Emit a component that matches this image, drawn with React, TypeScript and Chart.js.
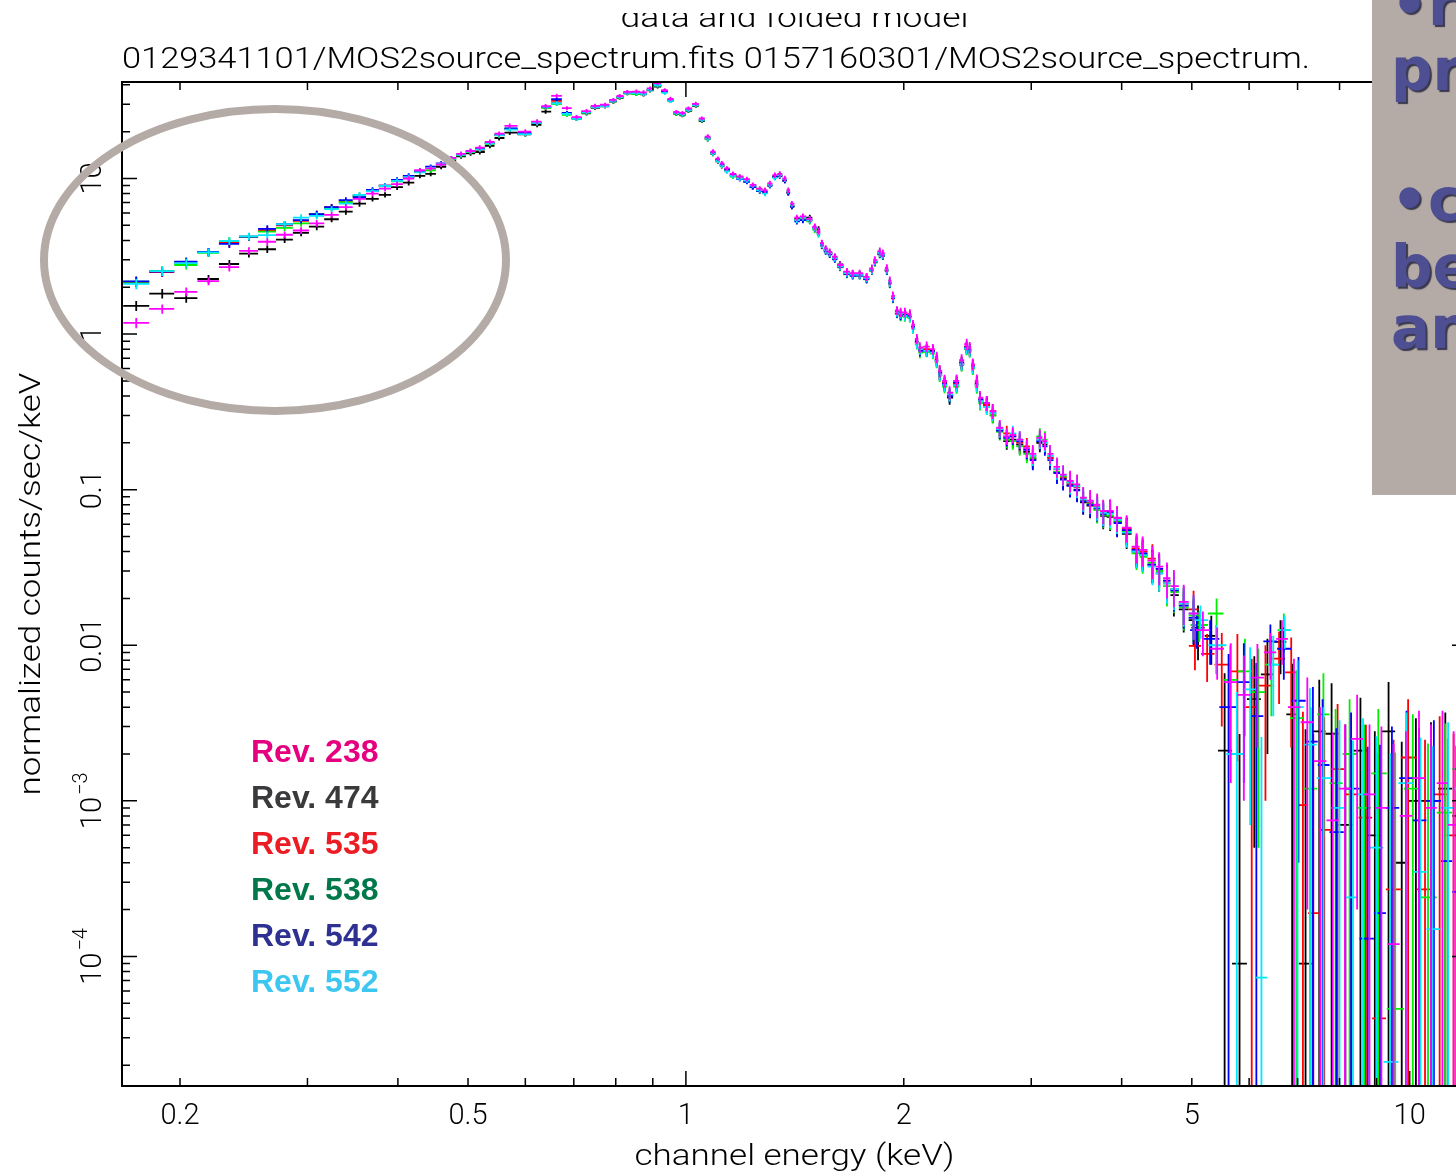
import React, { useEffect, useRef } from "react";
import { Chart, registerables } from "chart.js";

Chart.register(...registerables);

// Channel-energy grid (keV, bin centres) shared by the six MOS2 spectra below 5 keV
const energyKeV = [
  0.174, 0.189, 0.204, 0.219, 0.234, 0.249, 0.264, 0.279, 0.294, 0.309, 0.324, 0.339, 0.354, 0.369, 0.384, 0.399, 0.414, 0.429, 0.444, 0.459, 0.474, 0.489, 0.504,
  0.519, 0.536, 0.552, 0.571, 0.600, 0.623, 0.640, 0.663, 0.685, 0.706, 0.729, 0.749, 0.773, 0.794, 0.810, 0.830, 0.854, 0.874, 0.892, 0.914, 0.935, 0.952, 0.970, 0.989, 1.008, 1.032, 1.052,
  1.072, 1.090, 1.107, 1.121, 1.139, 1.161, 1.187, 1.214, 1.237, 1.265, 1.286, 1.306, 1.327, 1.348, 1.370, 1.385, 1.401, 1.423, 1.451, 1.483, 1.507, 1.525, 1.541, 1.560, 1.580, 1.606, 1.632, 1.669, 1.700, 1.738, 1.777, 1.807, 1.824, 1.853, 1.871, 1.895, 1.913, 1.932, 1.957, 1.980, 2.007, 2.039,
  2.059, 2.085, 2.105, 2.151, 2.194, 2.221, 2.242, 2.277, 2.314, 2.366, 2.404, 2.443, 2.467, 2.491, 2.523, 2.548, 2.604, 2.654, 2.714, 2.775, 2.829, 2.892, 2.958, 3.015, 3.083, 3.133, 3.184, 3.256, 3.320, 3.395, 3.471, 3.539, 3.618, 3.700, 3.772, 3.856, 3.942, 4.064, 4.194, 4.276, 4.411, 4.507, 4.620, 4.723, 4.873, 5.028,
];

// Fractional 1-sigma error on each grid bin
const relErr = [
  0.075, 0.07, 0.065, 0.06, 0.06, 0.055, 0.055, 0.05, 0.05, 0.05, 0.045, 0.045, 0.045, 0.04, 0.04, 0.04, 0.04, 0.035, 0.035, 0.035, 0.035, 0.035, 0.035,
  0.035, 0.035, 0.035, 0.035, 0.035, 0.035, 0.03, 0.03, 0.03, 0.03, 0.03, 0.03, 0.03, 0.03, 0.03, 0.03, 0.03, 0.03, 0.03, 0.03, 0.03, 0.03, 0.03, 0.03, 0.03, 0.03, 0.03,
  0.035, 0.035, 0.035, 0.035, 0.035, 0.035, 0.035, 0.035, 0.035, 0.035, 0.04, 0.04, 0.04, 0.04, 0.04, 0.04, 0.04, 0.045, 0.045, 0.045, 0.05, 0.05, 0.05, 0.05, 0.05, 0.05, 0.055, 0.055, 0.055, 0.055, 0.06, 0.06, 0.06, 0.06, 0.06, 0.06, 0.065, 0.065, 0.065, 0.07, 0.07, 0.07,
  0.07, 0.075, 0.08, 0.08, 0.08, 0.085, 0.09, 0.095, 0.1, 0.1, 0.09, 0.085, 0.085, 0.09, 0.1, 0.105, 0.11, 0.11, 0.12, 0.12, 0.12, 0.13, 0.13, 0.14, 0.13, 0.13, 0.14, 0.15, 0.15, 0.16, 0.16, 0.17, 0.17, 0.18, 0.18, 0.19, 0.19, 0.2, 0.22, 0.22, 0.24, 0.24, 0.26, 0.27, 0.29, 0.32,
];

// normalized counts/sec/keV on the grid, one array per revolution
const rev238 = [
  1.18, 1.45, 1.87, 2.19, 2.69, 3.43, 3.92, 4.35, 4.63, 5.15, 5.83, 6.55, 7.40, 8.00, 8.60, 9.20, 10.0, 11.3, 11.6, 12.3, 13.5, 14.4, 15.0,
  15.8, 17.2, 19.4, 21.8, 20.0, 23.2, 29.2, 34.0, 28.3, 24.8, 27.1, 29.3, 29.8, 32.0, 33.9, 36.0, 36.2, 35.8, 37.9, 41.0, 36.9, 32.5, 26.8, 26.4, 28.2, 30.2, 24.3,
  18.6, 14.9, 13.4, 12.5, 11.6, 10.7, 10.3, 9.9, 9.1, 8.6, 8.4, 9.3, 10.5, 10.7, 10.0, 8.4, 6.9, 5.6, 5.7, 5.5, 4.9, 4.6, 3.85, 3.55, 3.38, 3.15, 2.78, 2.52, 2.46, 2.46, 2.33, 2.64, 2.99, 3.40, 3.30, 2.65, 2.20, 1.76, 1.42, 1.38, 1.38, 1.35,
  1.15, 0.93, 0.82, 0.83, 0.80, 0.71, 0.58, 0.50, 0.42, 0.50, 0.68, 0.86, 0.82, 0.64, 0.50, 0.39, 0.36, 0.32, 0.25, 0.22, 0.225, 0.21, 0.185, 0.17, 0.215, 0.205, 0.17, 0.14, 0.125, 0.114, 0.108, 0.089, 0.085, 0.080, 0.073, 0.073, 0.066, 0.057, 0.043, 0.041, 0.035, 0.032, 0.027, 0.024, 0.019, 0.016,
];
const rev474 = [
  1.52, 1.82, 1.70, 2.26, 2.82, 3.29, 3.51, 4.05, 4.47, 4.90, 5.47, 6.13, 6.90, 7.40, 7.85, 8.80, 9.40, 10.4, 10.7, 11.9, 13.0, 13.9, 14.5,
  14.8, 16.2, 18.2, 19.7, 19.2, 22.1, 26.9, 30.4, 26.0, 24.2, 26.2, 28.4, 29.1, 31.2, 33.0, 35.3, 35.0, 34.7, 36.8, 39.0, 36.0, 31.6, 26.0, 25.5, 27.2, 29.3, 23.4,
  17.9, 14.4, 12.9, 12.0, 11.5, 10.4, 10.2, 9.6, 8.8, 8.3, 8.1, 9.0, 10.2, 10.4, 9.7, 8.1, 6.6, 5.5, 5.6, 5.6, 4.8, 4.7, 3.80, 3.50, 3.33, 3.12, 2.80, 2.50, 2.44, 2.42, 2.30, 2.60, 2.90, 3.30, 3.18, 2.58, 2.14, 1.72, 1.40, 1.34, 1.32, 1.29,
  1.12, 0.90, 0.80, 0.79, 0.78, 0.67, 0.55, 0.47, 0.39, 0.47, 0.64, 0.81, 0.78, 0.61, 0.47, 0.37, 0.35, 0.30, 0.24, 0.205, 0.21, 0.195, 0.175, 0.158, 0.20, 0.195, 0.16, 0.13, 0.118, 0.107, 0.10, 0.083, 0.079, 0.075, 0.068, 0.067, 0.062, 0.052, 0.040, 0.038, 0.033, 0.029, 0.025, 0.021, 0.017, 0.0145,
];
const rev535 = [
  2.16, 2.50, 2.88, 3.37, 3.85, 4.20, 4.65, 5.00, 5.35, 5.90, 6.55, 7.10, 7.75, 8.30, 9.00, 9.70, 10.2, 11.0, 11.8, 12.4, 13.4, 14.2, 14.9,
  15.3, 16.8, 19.0, 20.8, 19.5, 22.8, 28.6, 31.5, 26.3, 24.4, 26.6, 28.7, 29.2, 31.4, 33.3, 35.6, 35.4, 35.0, 37.1, 39.5, 36.2, 32.0, 26.2, 25.8, 27.5, 29.6, 23.7,
  18.2, 14.6, 13.1, 12.2, 11.2, 10.5, 10.0, 9.8, 9.0, 8.5, 8.3, 9.2, 10.3, 10.5, 9.8, 8.2, 6.7, 5.4, 5.5, 5.4, 4.8, 4.5, 3.74, 3.45, 3.30, 3.06, 2.71, 2.46, 2.40, 2.40, 2.28, 2.58, 2.92, 3.30, 3.22, 2.57, 2.13, 1.71, 1.37, 1.33, 1.34, 1.32,
  1.10, 0.88, 0.79, 0.80, 0.76, 0.69, 0.57, 0.49, 0.41, 0.48, 0.66, 0.83, 0.80, 0.63, 0.49, 0.38, 0.35, 0.32, 0.245, 0.23, 0.22, 0.20, 0.19, 0.165, 0.21, 0.20, 0.16, 0.135, 0.12, 0.11, 0.104, 0.088, 0.083, 0.078, 0.072, 0.071, 0.065, 0.056, 0.042, 0.040, 0.036, 0.031, 0.026, 0.023, 0.0185, 0.017,
];
const rev538 = [
  2.17, 2.55, 2.78, 3.33, 3.97, 4.23, 4.55, 4.82, 5.15, 5.90, 6.45, 7.05, 7.70, 8.35, 8.90, 9.60, 10.3, 11.1, 11.3, 12.3, 13.3, 14.1, 14.8,
  15.4, 16.7, 18.9, 20.9, 19.4, 22.7, 28.4, 30.2, 25.6, 24.3, 26.5, 28.8, 29.3, 31.3, 33.2, 35.3, 34.9, 34.8, 37.0, 39.3, 36.1, 31.8, 26.1, 25.7, 27.4, 29.5, 23.6,
  18.0, 14.5, 13.0, 12.1, 11.3, 10.3, 10.1, 9.6, 8.9, 8.4, 8.3, 9.1, 10.4, 10.6, 9.8, 8.2, 6.7, 5.4, 5.5, 5.3, 4.7, 4.4, 3.70, 3.42, 3.28, 3.04, 2.68, 2.42, 2.38, 2.37, 2.25, 2.55, 2.88, 3.26, 3.20, 2.55, 2.11, 1.69, 1.35, 1.30, 1.29, 1.27,
  1.08, 0.86, 0.76, 0.77, 0.75, 0.66, 0.54, 0.46, 0.40, 0.46, 0.63, 0.80, 0.77, 0.60, 0.46, 0.36, 0.34, 0.30, 0.235, 0.21, 0.205, 0.19, 0.17, 0.16, 0.22, 0.21, 0.165, 0.13, 0.122, 0.112, 0.106, 0.085, 0.081, 0.074, 0.069, 0.068, 0.063, 0.054, 0.039, 0.037, 0.034, 0.030, 0.024, 0.022, 0.0175, 0.0155,
];
const rev542 = [
  2.18, 2.52, 2.92, 3.37, 3.80, 4.23, 4.75, 5.08, 5.40, 5.90, 6.55, 7.25, 7.60, 8.44, 9.00, 9.78, 10.4, 11.2, 11.9, 12.5, 13.5, 14.3, 15.0,
  15.5, 16.9, 19.1, 21.0, 19.6, 22.9, 28.8, 32.3, 26.4, 24.5, 26.8, 29.0, 29.5, 31.6, 33.5, 35.7, 35.6, 35.2, 37.3, 39.7, 36.4, 32.1, 26.4, 26.0, 27.7, 29.8, 23.9,
  18.3, 14.7, 13.2, 12.3, 11.4, 10.6, 9.9, 9.5, 8.8, 8.3, 8.2, 9.0, 10.2, 10.4, 9.7, 8.1, 6.6, 5.3, 5.4, 5.4, 4.8, 4.5, 3.72, 3.40, 3.25, 3.02, 2.70, 2.44, 2.37, 2.38, 2.26, 2.57, 2.91, 3.28, 3.21, 2.56, 2.12, 1.70, 1.36, 1.32, 1.33, 1.30,
  1.11, 0.89, 0.78, 0.78, 0.77, 0.68, 0.56, 0.48, 0.40, 0.49, 0.65, 0.82, 0.79, 0.62, 0.48, 0.38, 0.36, 0.31, 0.24, 0.215, 0.22, 0.205, 0.18, 0.155, 0.205, 0.19, 0.155, 0.128, 0.116, 0.106, 0.099, 0.084, 0.080, 0.076, 0.070, 0.072, 0.061, 0.055, 0.041, 0.039, 0.033, 0.031, 0.026, 0.0225, 0.018, 0.015,
];
const rev552 = [
  2.10, 2.54, 2.86, 3.35, 3.97, 4.25, 4.33, 5.08, 5.60, 5.75, 6.35, 6.90, 7.83, 8.30, 8.95, 9.65, 10.2, 10.95, 11.7, 12.4, 13.4, 14.2, 14.9,
  15.4, 16.8, 19.0, 20.6, 19.3, 22.8, 28.9, 30.4, 26.0, 24.2, 26.6, 28.7, 29.2, 31.5, 33.4, 35.5, 35.4, 35.0, 37.2, 39.8, 35.5, 31.5, 26.3, 25.8, 27.5, 29.6, 23.8,
  18.1, 14.5, 13.0, 12.1, 11.1, 10.4, 10.0, 9.7, 9.0, 8.4, 8.0, 9.1, 10.1, 10.5, 9.9, 8.3, 6.8, 5.4, 5.6, 5.4, 4.8, 4.4, 3.76, 3.46, 3.31, 3.08, 2.72, 2.47, 2.41, 2.40, 2.29, 2.59, 2.93, 3.32, 3.24, 2.60, 2.15, 1.73, 1.38, 1.35, 1.31, 1.28,
  1.09, 0.87, 0.80, 0.78, 0.76, 0.67, 0.55, 0.47, 0.41, 0.47, 0.64, 0.81, 0.78, 0.61, 0.47, 0.37, 0.34, 0.31, 0.245, 0.22, 0.23, 0.21, 0.185, 0.165, 0.21, 0.20, 0.165, 0.136, 0.124, 0.111, 0.105, 0.087, 0.084, 0.077, 0.071, 0.070, 0.064, 0.053, 0.040, 0.038, 0.032, 0.029, 0.025, 0.023, 0.0185, 0.016,
];

// Hard band (> 5 keV): each revolution has its own grouping, values and absolute errors
const tailE238 = [5.18, 5.42, 5.66, 5.90, 6.16, 6.42, 6.66, 6.92, 7.22, 7.52, 7.83, 8.14, 8.46, 8.80, 9.14, 9.50, 9.88, 10.3, 10.7, 11.1, 11.5, 11.9];
const tailV238 = [0.0125, 0.0095, 0.0058, 0.0048, 0.0062, 0.0090, 0.0110, 0.0040, 0.0032, 0.0018, 0.00075, 0.0012, 0.0025, 0.0011, 0.0009, 0.00012, 0.0008, 0.0014, 0.0009, 0.0013, 0.0007, 0.0011];
const tailErr238 = [0.004, 0.0035, 0.0045, 0.0038, 0.004, 0.003, 0.0035, 0.0042, 0.003, 0.0022, 0.002, 0.0019, 0.0023, 0.002, 0.0021, 0.0022, 0.002, 0.0024, 0.0022, 0.0025, 0.0021, 0.0022];

const tailE474 = [5.10, 5.32, 5.55, 5.82, 6.10, 6.36, 6.63, 6.88, 7.18, 7.50, 7.80, 8.15, 8.55, 8.95, 9.35, 9.75, 10.2, 10.7, 11.2, 11.7];
const tailV474 = [0.013, 0.0115, 0.0021, 0.00009, 0.0045, 0.0065, 0.0105, 0.0036, 0.00009, 0.0028, 0.0027, 0.0007, 0.0021, 0.0006, 0.0028, 0.0004, 0.001, 0.001, 0.0012, 0.0008];
const tailErr474 = [0.005, 0.004, 0.0045, 0.0026, 0.004, 0.0045, 0.004, 0.004, 0.0028, 0.0032, 0.003, 0.0024, 0.0025, 0.0022, 0.003, 0.002, 0.0024, 0.0022, 0.0025, 0.002];

const tailE535 = [5.05, 5.25, 5.50, 5.78, 6.05, 6.32, 6.60, 6.86, 7.12, 7.36, 7.62, 7.95, 8.30, 8.70, 9.05, 9.50, 9.95, 10.5, 11.0, 11.5];
const tailV535 = [0.0099, 0.0088, 0.0075, 0.0068, 0.004, 0.0055, 0.0082, 0.0067, 0.00094, 0.00019, 0.00065, 0.0016, 0.0011, 0.00078, 0.00004, 0.00027, 0.0019, 0.00027, 0.0011, 0.0006];
const tailErr535 = [0.003, 0.003, 0.0045, 0.005, 0.0042, 0.0045, 0.004, 0.0045, 0.0028, 0.0025, 0.0028, 0.0026, 0.0025, 0.0023, 0.002, 0.0022, 0.0026, 0.0022, 0.0024, 0.0021];

const tailE538 = [5.12, 5.41, 5.65, 5.92, 6.18, 6.44, 6.70, 6.97, 7.30, 7.60, 7.90, 8.26, 8.65, 9.05, 9.55, 10.1, 10.6, 11.2, 11.7];
const tailV538 = [0.0135, 0.016, 0.006, 0.0068, 0.005, 0.0075, 0.0125, 0.0034, 0.0012, 0.0036, 0.0013, 0.002, 0.0009, 0.0015, 0.000046, 0.0012, 0.00024, 0.00084, 0.0016];
const tailErr538 = [0.003, 0.004, 0.004, 0.0042, 0.0045, 0.004, 0.0035, 0.0035, 0.0028, 0.003, 0.0026, 0.0025, 0.0022, 0.0024, 0.002, 0.0024, 0.0021, 0.0023, 0.0025];

const tailE542 = [5.08, 5.30, 5.62, 5.90, 6.14, 6.42, 6.70, 7.02, 7.35, 7.58, 7.92, 8.30, 8.75, 9.10, 9.45, 9.90, 10.3, 10.8, 11.3, 11.6];
const tailV542 = [0.0125, 0.011, 0.004, 0.0058, 0.0035, 0.0106, 0.0095, 0.0044, 0.0024, 0.0017, 0.00063, 0.0012, 0.00013, 0.00019, 0.0009, 0.0014, 0.00075, 0.001, 0.00041, 0.00026];
const tailErr542 = [0.003, 0.0035, 0.0048, 0.0045, 0.0042, 0.003, 0.0035, 0.004, 0.003, 0.0028, 0.0023, 0.0025, 0.0021, 0.0021, 0.0021, 0.0024, 0.0022, 0.0023, 0.0021, 0.002];

const tailE552 = [5.14, 5.40, 5.77, 6.02, 6.24, 6.48, 6.72, 7.00, 7.28, 7.60, 8.00, 8.35, 8.62, 9.00, 9.40, 9.90, 10.35, 10.75, 11.3, 11.75];
const tailV552 = [0.0145, 0.01, 0.002, 0.0052, 0.000073, 0.0075, 0.0125, 0.004, 0.0023, 0.0014, 0.0009, 0.00024, 0.0011, 0.0005, 0.000021, 0.0013, 0.00035, 0.00015, 0.0009, 0.0012];
const tailErr552 = [0.0035, 0.0035, 0.003, 0.0045, 0.0025, 0.004, 0.003, 0.004, 0.003, 0.0026, 0.0024, 0.0022, 0.0023, 0.0021, 0.002, 0.0024, 0.0022, 0.0021, 0.0023, 0.0024];

const revLabels = ["Rev. 238", "Rev. 474", "Rev. 535", "Rev. 538", "Rev. 542", "Rev. 552"];
const legendColors = ["#e4007f", "#3a3a3c", "#ec1c24", "#00784a", "#2e3192", "#3cc6f0"];
const markerColors = ["#ff00ff", "#000000", "#ff0000", "#00ee00", "#0000ff", "#00e8ff"];
// plotting order (last one ends up on top)
const drawOrder = [1, 2, 3, 4, 5, 0];

const xTickValues = [0.2, 0.5, 1, 2, 5, 10];
const xTickText = ["0.2", "0.5", "1", "2", "5", "10"];
const yTickValues = [10, 1, 0.1, 0.01, 1e-3, 1e-4];
const yTickMain = ["10", "1", "0.1", "0.01", "10", "10"];
const yTickExp = ["", "", "", "", "\u22123", "\u22124"];

const titleTop = "data and folded model";
const titleFiles = "0129341101/MOS2source_spectrum.fits 0157160301/MOS2source_spectrum.";
const xTitle = "channel energy (keV)";
const yTitle = "normalized counts/sec/keV";
const panelLines = ["\u2022re", "pr", "\u2022c", "be", "an"];

const X_MIN = 0.1663;
const X_MAX = 12.0;
const Y_MIN = 1.47e-5;
const Y_MAX = 41.7;

const CANVAS_W = 1480;
const CANVAS_H = 1176;

const LABEL_FONT = "300 29px Roboto";
const TITLE_FONT = "300 30px Roboto";

function binEdges(e: number[]) {
  const lo: number[] = [];
  const hi: number[] = [];
  for (let i = 0; i < e.length; i++) {
    const prev = i > 0 ? Math.sqrt(e[i - 1] * e[i]) : null;
    const next = i < e.length - 1 ? Math.sqrt(e[i] * e[i + 1]) : null;
    lo.push(prev !== null ? prev : (e[i] * e[i]) / (next as number));
    hi.push(next !== null ? next : (e[i] * e[i]) / (prev as number));
  }
  return { lo, hi };
}

function buildPoints(values: number[], tE: number[], tV: number[], tErr: number[]) {
  const g = binEdges(energyKeV);
  const pts: any[] = [];
  const n = Math.min(values.length, energyKeV.length);
  for (let i = 0; i < n; i++) {
    pts.push({ x: energyKeV[i], y: values[i], lo: g.lo[i], hi: g.hi[i], err: values[i] * relErr[i] });
  }
  const t = binEdges(tE);
  for (let i = 0; i < tE.length; i++) {
    pts.push({ x: tE[i], y: tV[i], lo: t.lo[i], hi: t.hi[i], err: tErr[i] });
  }
  return pts;
}

const seriesData = [
  buildPoints(rev238, tailE238, tailV238, tailErr238),
  buildPoints(rev474, tailE474, tailV474, tailErr474),
  buildPoints(rev535, tailE535, tailV535, tailErr535),
  buildPoints(rev538, tailE538, tailV538, tailErr538),
  buildPoints(rev542, tailE542, tailV542, tailErr542),
  buildPoints(rev552, tailE552, tailV552, tailErr552),
];

function fitText(ctx: CanvasRenderingContext2D, text: string, x: number, y: number, width: number, align: "left" | "center") {
  const w = ctx.measureText(text).width;
  const s = width / w;
  ctx.save();
  ctx.translate(x, y);
  ctx.scale(s, 1);
  ctx.textAlign = "left";
  ctx.fillText(text, align === "center" ? -w / 2 : 0, 0);
  ctx.restore();
}

const spectrumPlugin = {
  id: "spectrumPlot",
  beforeDraw(chart: any) {
    const ctx = chart.ctx as CanvasRenderingContext2D;
    ctx.save();
    ctx.fillStyle = "#ffffff";
    ctx.fillRect(0, 0, chart.width, chart.height);
    ctx.restore();
  },
  afterDatasetsDraw(chart: any) {
    const ctx = chart.ctx as CanvasRenderingContext2D;
    const { left, top, right, bottom } = chart.chartArea;
    const xs = chart.scales.x;
    const ys = chart.scales.y;
    ctx.save();
    ctx.beginPath();
    ctx.rect(left, top, right - left, bottom - top);
    ctx.clip();
    ctx.lineWidth = 1.8;
    ctx.lineCap = "butt";
    for (const di of drawOrder) {
      const ds = chart.data.datasets[di];
      ctx.strokeStyle = ds.borderColor;
      ctx.beginPath();
      for (const p of ds.data) {
        const px = xs.getPixelForValue(p.x);
        const py = ys.getPixelForValue(p.y);
        const x0 = xs.getPixelForValue(p.lo);
        const x1 = xs.getPixelForValue(p.hi);
        const yTop = ys.getPixelForValue(p.y + p.err);
        const lowV = p.y - p.err;
        const yBot = lowV > Y_MIN ? ys.getPixelForValue(lowV) : bottom + 2;
        ctx.moveTo(x0, py);
        ctx.lineTo(x1, py);
        ctx.moveTo(px, yTop);
        ctx.lineTo(px, yBot);
      }
      ctx.stroke();
    }
    ctx.restore();
  },
  afterDraw(chart: any) {
    const ctx = chart.ctx as CanvasRenderingContext2D;
    const { left, top, right, bottom } = chart.chartArea;
    const xs = chart.scales.x;
    const ys = chart.scales.y;

    // frame
    ctx.save();
    ctx.strokeStyle = "#000";
    ctx.lineWidth = 2;
    ctx.strokeRect(left, top, right - left, bottom - top);

    // ticks on all four sides, pointing inwards
    ctx.lineWidth = 1.5;
    ctx.beginPath();
    for (let d = -1; d <= 1; d++) {
      for (let m = 1; m <= 9; m++) {
        const v = m * Math.pow(10, d);
        if (v <= X_MIN || v >= X_MAX) continue;
        const px = xs.getPixelForValue(v);
        const len = m === 1 ? 15 : 8;
        ctx.moveTo(px, bottom);
        ctx.lineTo(px, bottom - len);
        ctx.moveTo(px, top);
        ctx.lineTo(px, top + len);
      }
    }
    for (let d = -5; d <= 1; d++) {
      for (let m = 1; m <= 9; m++) {
        const v = m * Math.pow(10, d);
        if (v <= Y_MIN || v >= Y_MAX) continue;
        const py = ys.getPixelForValue(v);
        const len = m === 1 ? 15 : 8;
        ctx.moveTo(left, py);
        ctx.lineTo(left + len, py);
        ctx.moveTo(right, py);
        ctx.lineTo(right - len, py);
      }
    }
    ctx.stroke();

    // tick labels
    ctx.fillStyle = "#000";
    ctx.font = LABEL_FONT;
    ctx.textAlign = "center";
    ctx.textBaseline = "alphabetic";
    xTickValues.forEach((v, i) => {
      ctx.fillText(xTickText[i], xs.getPixelForValue(v), bottom + 38);
    });
    yTickValues.forEach((v, i) => {
      const py = ys.getPixelForValue(v);
      ctx.save();
      ctx.translate(left - 21, py);
      ctx.rotate(-Math.PI / 2);
      ctx.textAlign = "left";
      ctx.font = LABEL_FONT;
      const wMain = ctx.measureText(yTickMain[i]).width;
      ctx.font = "300 20px Roboto";
      const wExp = yTickExp[i] ? ctx.measureText(yTickExp[i]).width + 2 : 0;
      const start = -(wMain + wExp) / 2;
      ctx.font = LABEL_FONT;
      ctx.fillText(yTickMain[i], start, 0);
      if (yTickExp[i]) {
        ctx.font = "300 20px Roboto";
        ctx.fillText(yTickExp[i], start + wMain + 2, -14);
      }
      ctx.restore();
    });

    // axis titles
    ctx.font = TITLE_FONT;
    fitText(ctx, xTitle, (left + right) / 2, bottom + 79, 320, "center");
    ctx.save();
    ctx.translate(left - 82, (top + bottom) / 2);
    ctx.rotate(-Math.PI / 2);
    fitText(ctx, yTitle, 0, 0, 423, "center");
    ctx.restore();

    // plot titles
    fitText(ctx, titleFiles, left, top - 14, 1188, "left");
    fitText(ctx, titleTop, (left + right) / 2, top - 55, 348, "center");
    ctx.fillStyle = "#ffffff";
    ctx.fillRect(0, 0, chart.width, 13);

    // highlight ellipse round the soft band
    ctx.strokeStyle = "#b4aba7";
    ctx.lineWidth = 8;
    ctx.beginPath();
    ctx.ellipse(left + 153, top + 178, 231, 151, 0, 0, Math.PI * 2);
    ctx.stroke();

    // revolution legend
    ctx.font = "bold 32px 'Liberation Sans', Arial, sans-serif";
    ctx.textAlign = "left";
    chart.data.datasets.forEach((ds: any, i: number) => {
      ctx.fillStyle = ds.legendColor;
      ctx.fillText(ds.label, left + 129, 762 + i * 46);
    });

    // side note panel
    ctx.fillStyle = "#b4aba7";
    ctx.fillRect(1372, 0, chart.width - 1372, 495);
    ctx.font = "bold 58px 'DejaVu Sans', Verdana, sans-serif";
    ctx.fillStyle = "#4e4f93";
    ctx.shadowColor = "rgba(35,35,60,0.85)";
    ctx.shadowOffsetX = 2;
    ctx.shadowOffsetY = 2;
    ctx.shadowBlur = 1;
    const baselines = [25, 90, 220, 287, 348];
    panelLines.forEach((t, i) => ctx.fillText(t, 1391, baselines[i]));
    ctx.restore();
  },
};

export default function App() {
  const canvasRef = useRef<HTMLCanvasElement | null>(null);

  useEffect(() => {
    const canvas = canvasRef.current;
    if (!canvas) return;
    const chart = new Chart(canvas, {
      type: "scatter",
      data: {
        datasets: revLabels.map((label, i) => ({
          label,
          data: seriesData[i],
          borderColor: markerColors[i],
          backgroundColor: markerColors[i],
          legendColor: legendColors[i],
          pointRadius: 0,
          pointHoverRadius: 0,
          showLine: false,
        })) as any,
      },
      options: {
        responsive: false,
        animation: false,
        devicePixelRatio: 1,
        events: [],
        layout: { padding: { left: 122, top: 82, right: CANVAS_W - 1467, bottom: CANVAS_H - 1086 } },
        plugins: { legend: { display: false }, tooltip: { enabled: false } },
        scales: {
          x: { type: "logarithmic", min: X_MIN, max: X_MAX, display: false, bounds: "data" },
          y: { type: "logarithmic", min: Y_MIN, max: Y_MAX, display: false, bounds: "data" },
        },
      } as any,
      plugins: [spectrumPlugin],
    });
    return () => chart.destroy();
  }, []);

  return (
    <div style={{ position: "fixed", left: 0, top: 0, width: "100vw", height: "100vh", overflow: "hidden", background: "#fff" }}>
      <canvas ref={canvasRef} width={CANVAS_W} height={CANVAS_H} style={{ display: "block", width: CANVAS_W, height: CANVAS_H }} />
    </div>
  );
}
